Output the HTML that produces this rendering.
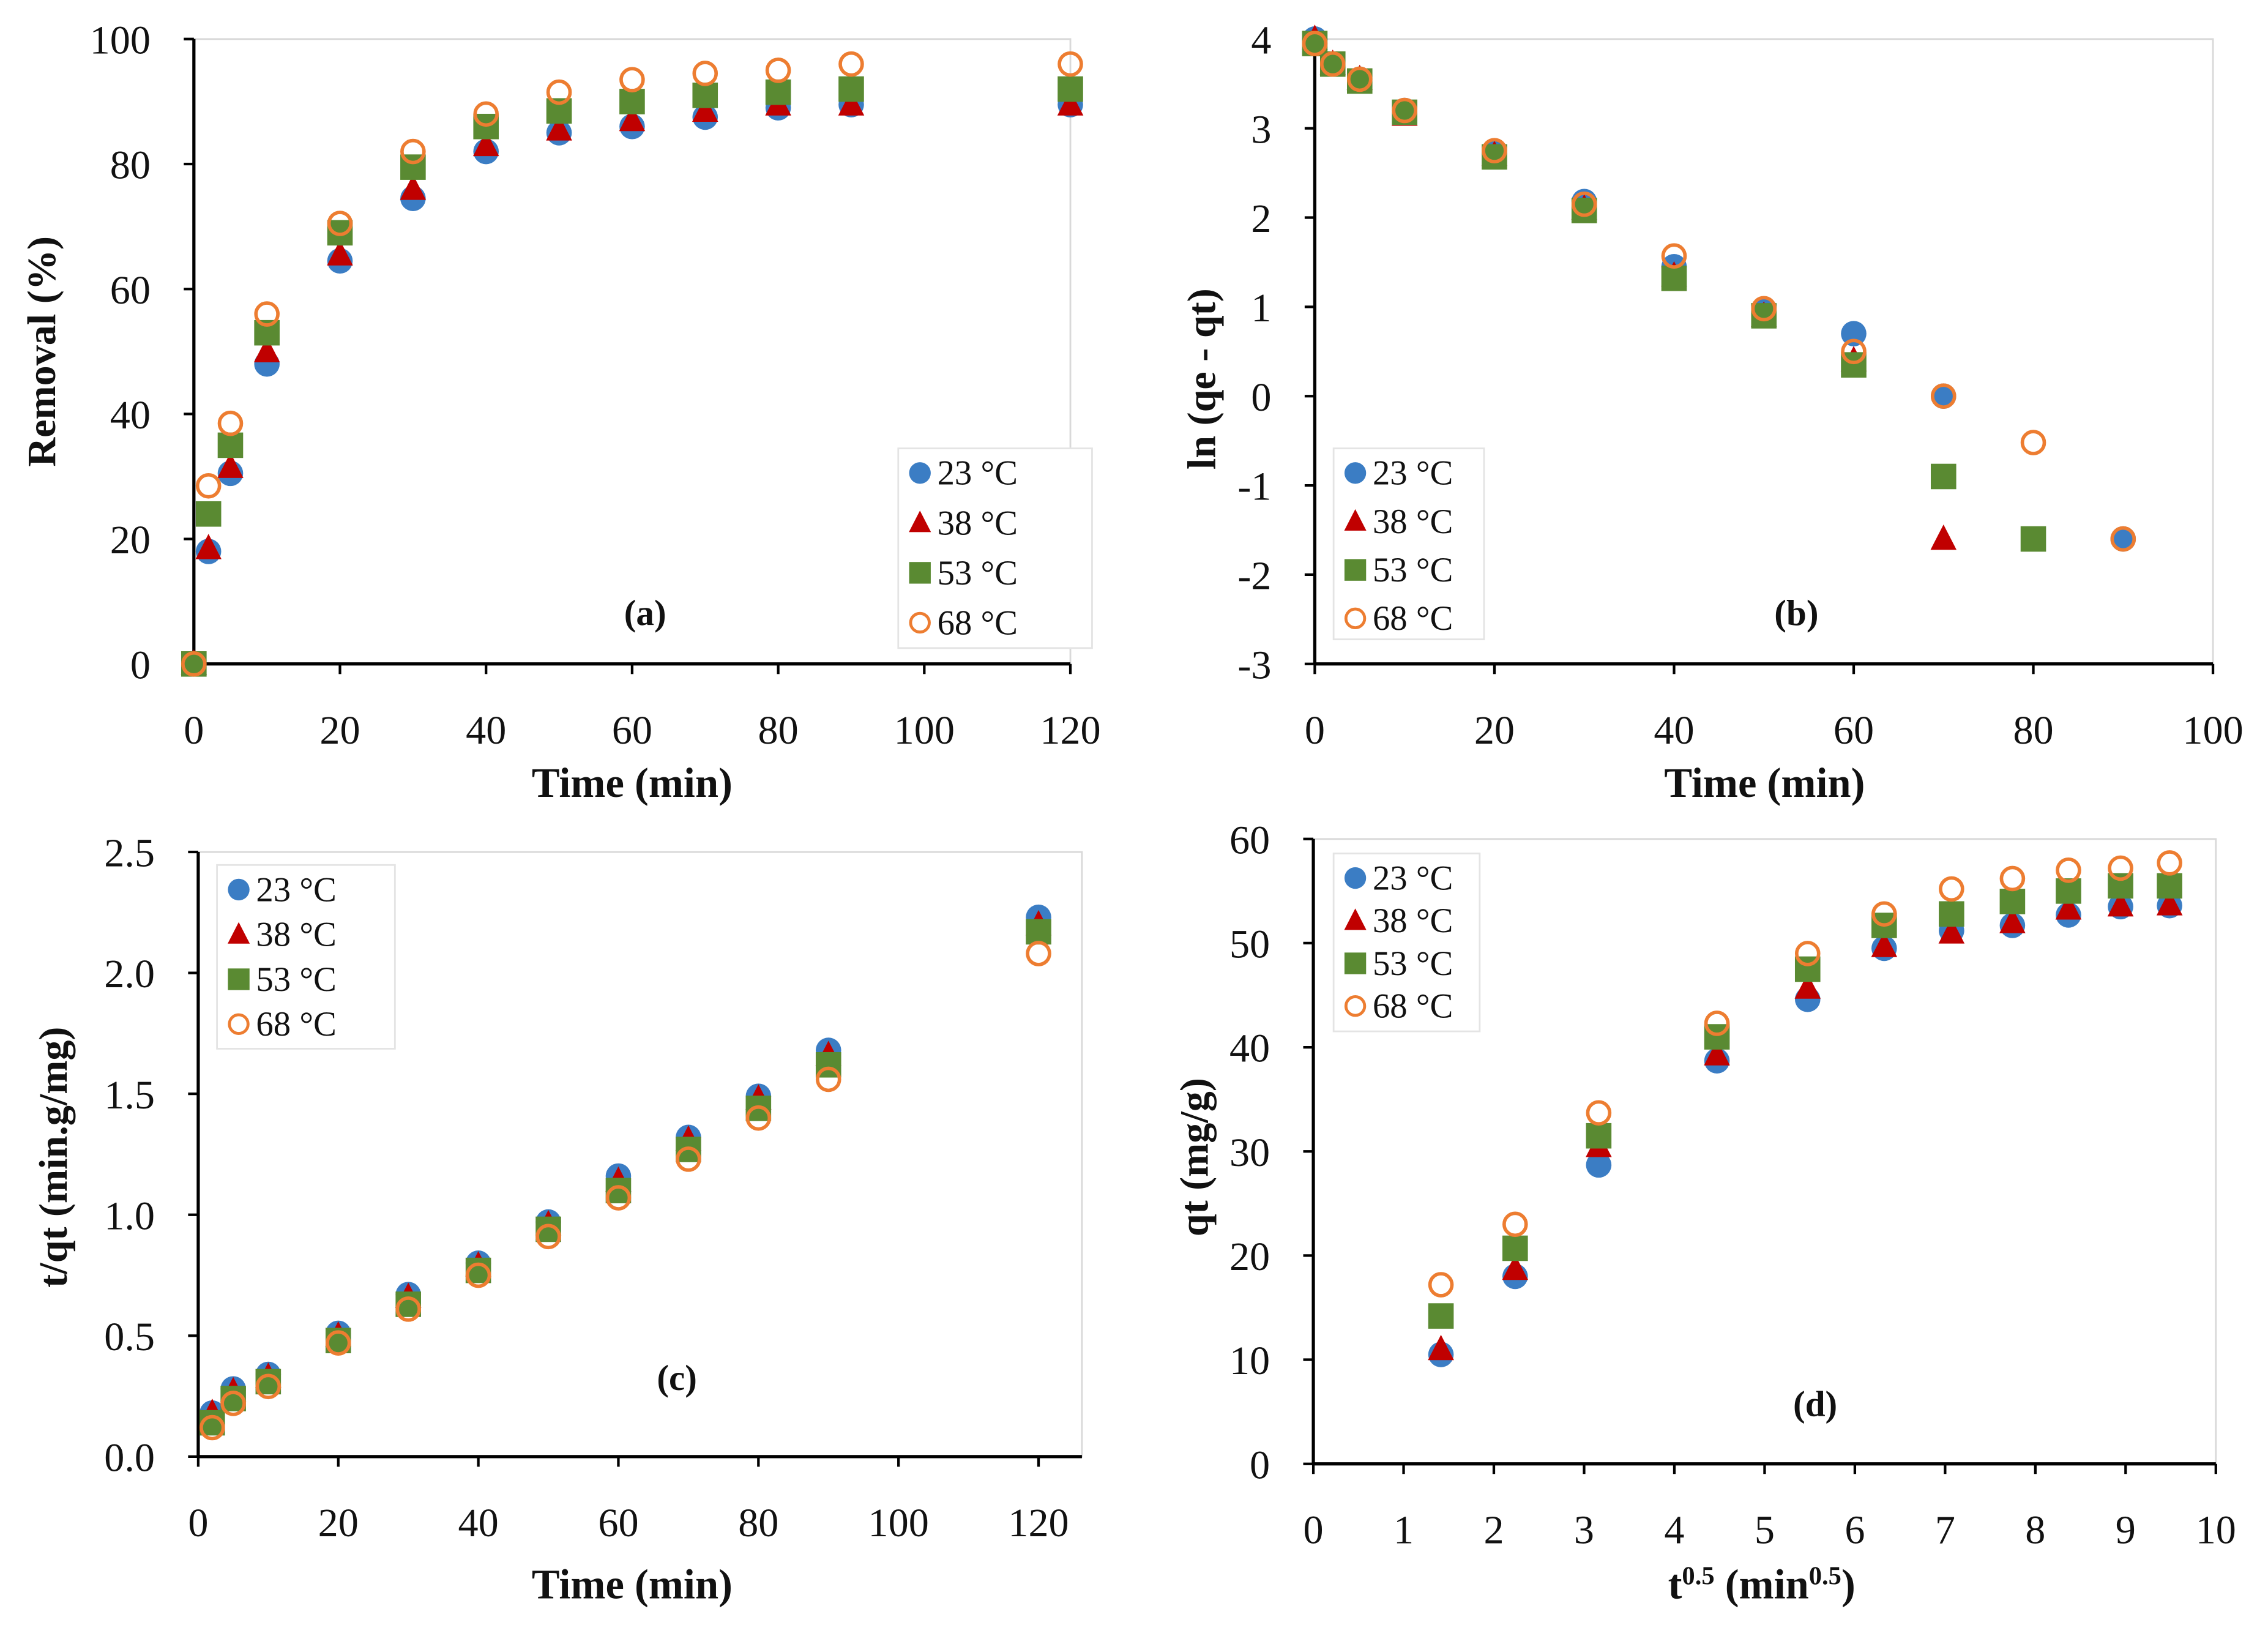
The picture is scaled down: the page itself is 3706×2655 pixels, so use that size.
<!DOCTYPE html>
<html><head><meta charset="utf-8"><style>
html,body{margin:0;padding:0;background:#fff}
svg{display:block}
text{font-family:"Liberation Serif",serif;fill:#111}
</style></head><body>
<svg id="fig" width="3706" height="2655" viewBox="0 0 1568 1123.4" xmlns="http://www.w3.org/2000/svg"></svg>
<script>
const seriesNames = ["23 °C","38 °C","53 °C","68 °C"];
// Panel (a)
const timeA = [0,2,5,10,20,30,40,50,60,70,80,90,120];
const remA23 = [0,18,30.5,48,64.5,74.5,82,85,86,87.5,89,89.5,89.5];
const remA38 = [0,18.5,31.5,50,65.5,76,83,85.5,87,88.5,89.5,89.5,89.5];
const remA53 = [0,24,35,53,69,79.5,86,88.5,90,91,91.5,92,92];
const remA68 = [0,28.5,38.5,56,70.5,82,88,91.5,93.5,94.5,95,96,96];
const ticksA_x = [0,20,40,60,80,100,120];
const ticksA_y = [0,20,40,60,80,100];
// Panel (b)
const timeB = [0,2,5,10,20,30,40,50,60,70,80,90];
const lnB23 = [4,3.72,3.55,3.2,2.72,2.18,1.45,0.95,0.7,0.0,null,-1.6];
const lnB38 = [4,3.72,3.55,3.15,2.7,2.1,1.35,0.9,0.4,-1.6,null,null];
const lnB53 = [3.95,3.72,3.53,3.18,2.68,2.08,1.32,0.9,0.35,-0.9,-1.6,null];
const lnB68 = [3.95,3.72,3.55,3.2,2.75,2.15,1.57,0.98,0.5,0.0,-0.52,-1.6];
const ticksB_x = [0,20,40,60,80,100];
const ticksB_y = [-3,-2,-1,0,1,2,3,4];
// Panel (c)
const timeC = [2,5,10,20,30,40,50,60,70,80,90,120];
const tqC23 = [0.18,0.28,0.34,0.51,0.67,0.8,0.97,1.16,1.32,1.49,1.68,2.23];
const tqC38 = [0.18,0.27,0.33,0.5,0.66,0.79,0.96,1.14,1.31,1.48,1.66,2.2];
const tqC53 = [0.14,0.24,0.31,0.48,0.63,0.77,0.94,1.1,1.27,1.44,1.62,2.17];
const tqC68 = [0.12,0.22,0.29,0.47,0.61,0.75,0.91,1.07,1.23,1.40,1.56,2.08];
const ticksC_x = [0,20,40,60,80,100,120];
const ticksC_y = ["0.0","0.5","1.0","1.5","2.0","2.5"];
// Panel (d)
const sqrtD = [1.414,2.236,3.162,4.472,5.477,6.325,7.071,7.746,8.367,8.944,9.487];
const qtD23 = [10.5,18,28.7,38.7,44.6,49.5,51.2,51.7,52.7,53.5,53.6];
const qtD38 = [11,18.7,30.5,39.3,45.7,49.7,51,52,53.3,53.6,53.7];
const qtD53 = [14.2,20.7,31.5,41,47.5,51.7,52.8,54,55,55.5,55.5];
const qtD68 = [17.2,23,33.7,42.3,49,52.8,55.2,56.2,57,57.2,57.7];
const ticksD_x = [0,1,2,3,4,5,6,7,8,9,10];
const ticksD_y = [0,10,20,30,40,50,60];

const NS="http://www.w3.org/2000/svg";
const svg=document.getElementById('fig');
const COLORS=["#3b7dc4","#c00000","#5a8a32","#ed7d31"];
function el(tag,attrs,parent){const e=document.createElementNS(NS,tag);for(const k in attrs)e.setAttribute(k,attrs[k]);(parent||svg).appendChild(e);return e;}
function marker(g,kind,cx,cy,s){
  let m;
  if(kind===0) m=el('circle',{cx,cy,r:8.8*s,fill:COLORS[0]},g);
  else if(kind===1) m=el('polygon',{points:`${cx},${cy-10*s} ${cx+9*s},${cy+7.5*s} ${cx-9*s},${cy+7.5*s}`,fill:COLORS[1]},g);
  else if(kind===2) m=el('rect',{x:cx-8.8*s,y:cy-8.8*s,width:17.6*s,height:17.6*s,fill:COLORS[2]},g);
  else m=el('circle',{cx,cy,r:7.6*s,fill:"none",stroke:COLORS[3],"stroke-width":2.4*s},g);
  return m;
}
function panel(o){
  const g=el('g',{});
  
  
  const sx=v=>o.x0+(v-o.xmin)/(o.xmax-o.xmin)*(o.x1-o.x0);
  const sy=v=>o.y0-(v-o.ymin)/(o.ymax-o.ymin)*(o.y0-o.y1);
  const fr=el('rect',{x:o.x0,y:o.y1,width:o.right-o.x0,height:o.y0-o.y1,fill:"none",stroke:"#d9d9d9","stroke-width":1.2},g);
  
  
  const xa=el('line',{x1:o.x0,y1:o.y0,x2:o.right,y2:o.y0,stroke:"#000","stroke-width":2.2},g);
  
  
  const ya=el('line',{x1:o.x0,y1:o.y0,x2:o.x0,y2:o.y1,stroke:"#000","stroke-width":2.2},g);
  
  
  o.xt.forEach(t=>{const x=sx(+t);
    el('line',{x1:x,y1:o.y0,x2:x,y2:o.y0+7,stroke:"#000","stroke-width":1.8},g);
    const tx=el('text',{x:x,y:o.y0+55,"text-anchor":"middle","font-size":28},g);tx.textContent=t;
    
    });
  o.yt.forEach(t=>{const y=sy(+t);
    el('line',{x1:o.x0-7,y1:y,x2:o.x0,y2:y,stroke:"#000","stroke-width":1.8},g);
    const tx=el('text',{x:o.x0-30,y:y+10,"text-anchor":"end","font-size":28},g);tx.textContent=t;
    
    });
  o.series.forEach((ys,k)=>{
    const sg=el('g',{},g);
    
    
    ys.forEach((v,i)=>{if(v===null)return;const m=marker(sg,k,sx(o.xs[i]),sy(v),1);
      
      });
  });
  const lg=el('g',{},g);
  
  
  el('rect',{x:o.lx,y:o.ly,width:o.lw,height:o.lh,fill:"#fff",stroke:"#e4e4e4","stroke-width":1.2},lg);
  seriesNames.forEach((n,k)=>{const cy=o.ly+17+k*o.lstep;
    marker(lg,k,o.lx+15,cy,0.85);
    const tx=el('text',{x:o.lx+27,y:cy+8,"font-size":24},lg);tx.textContent=n;
    
    });
  const pl=el('text',{x:o.px,y:o.py,"text-anchor":"middle","font-size":25,"font-weight":"bold"},g);pl.textContent=o.label;
  
  
  const xt=el('text',{x:o.xtx,y:o.xty,"text-anchor":"middle","font-size":29,"font-weight":"bold"},g);xt.innerHTML=o.xtitle;
  
  
  const yt=el('text',{x:0,y:0,"text-anchor":"middle","font-size":28,"font-weight":"bold",transform:`translate(${o.ytx},${o.yty}) rotate(-90)`},g);yt.textContent=o.ytitle;
  
  
}
panel({id:'a',x0:134,x1:740,right:740,xmin:0,xmax:120,y0:459,y1:27,ymin:0,ymax:100,xt:ticksA_x,yt:ticksA_y,xs:timeA,
  series:[remA23,remA38,remA53,remA68],lx:621,ly:310,lw:134,lh:138,lstep:34.5,px:446,py:432,label:"(a)",
  xtx:437,xty:551,xtitle:"Time (min)",ytx:38,yty:243,ytitle:"Removal (%)"});
panel({id:'b',x0:909,x1:1530,right:1530,xmin:0,xmax:100,y0:459,y1:27,ymin:-3,ymax:4,xt:ticksB_x,yt:ticksB_y,xs:timeB,
  series:[lnB23,lnB38,lnB53,lnB68],lx:922,ly:310,lw:104,lh:132,lstep:33.5,px:1242,py:432,label:"(b)",
  xtx:1220,xty:551,xtitle:"Time (min)",ytx:840,yty:262,ytitle:"ln (qe - qt)"});
panel({id:'c',x0:137,x1:718,right:748,xmin:0,xmax:120,y0:1007,y1:589,ymin:0,ymax:2.5,xt:ticksC_x,yt:ticksC_y,xs:timeC,
  series:[tqC23,tqC38,tqC53,tqC68],lx:150,ly:598,lw:123,lh:127,lstep:31,px:468,py:961,label:"(c)",
  xtx:437,xty:1105,xtitle:"Time (min)",ytx:46,yty:800,ytitle:"t/qt (min.g/mg)"});
panel({id:'d',x0:908,x1:1532,right:1532,xmin:0,xmax:10,y0:1012,y1:580,ymin:0,ymax:60,xt:ticksD_x,yt:ticksD_y,xs:sqrtD,
  series:[qtD23,qtD38,qtD53,qtD68],lx:922,ly:590,lw:101,lh:123,lstep:29.5,px:1255,py:979,label:"(d)",
  xtx:1218,xty:1105,xtitle:"t<tspan baseline-shift='super' font-size='18'>0.5</tspan> (min<tspan baseline-shift='super' font-size='18'>0.5</tspan>)",ytx:835,yty:800,ytitle:"qt (mg/g)"});
</script>
</body></html>
